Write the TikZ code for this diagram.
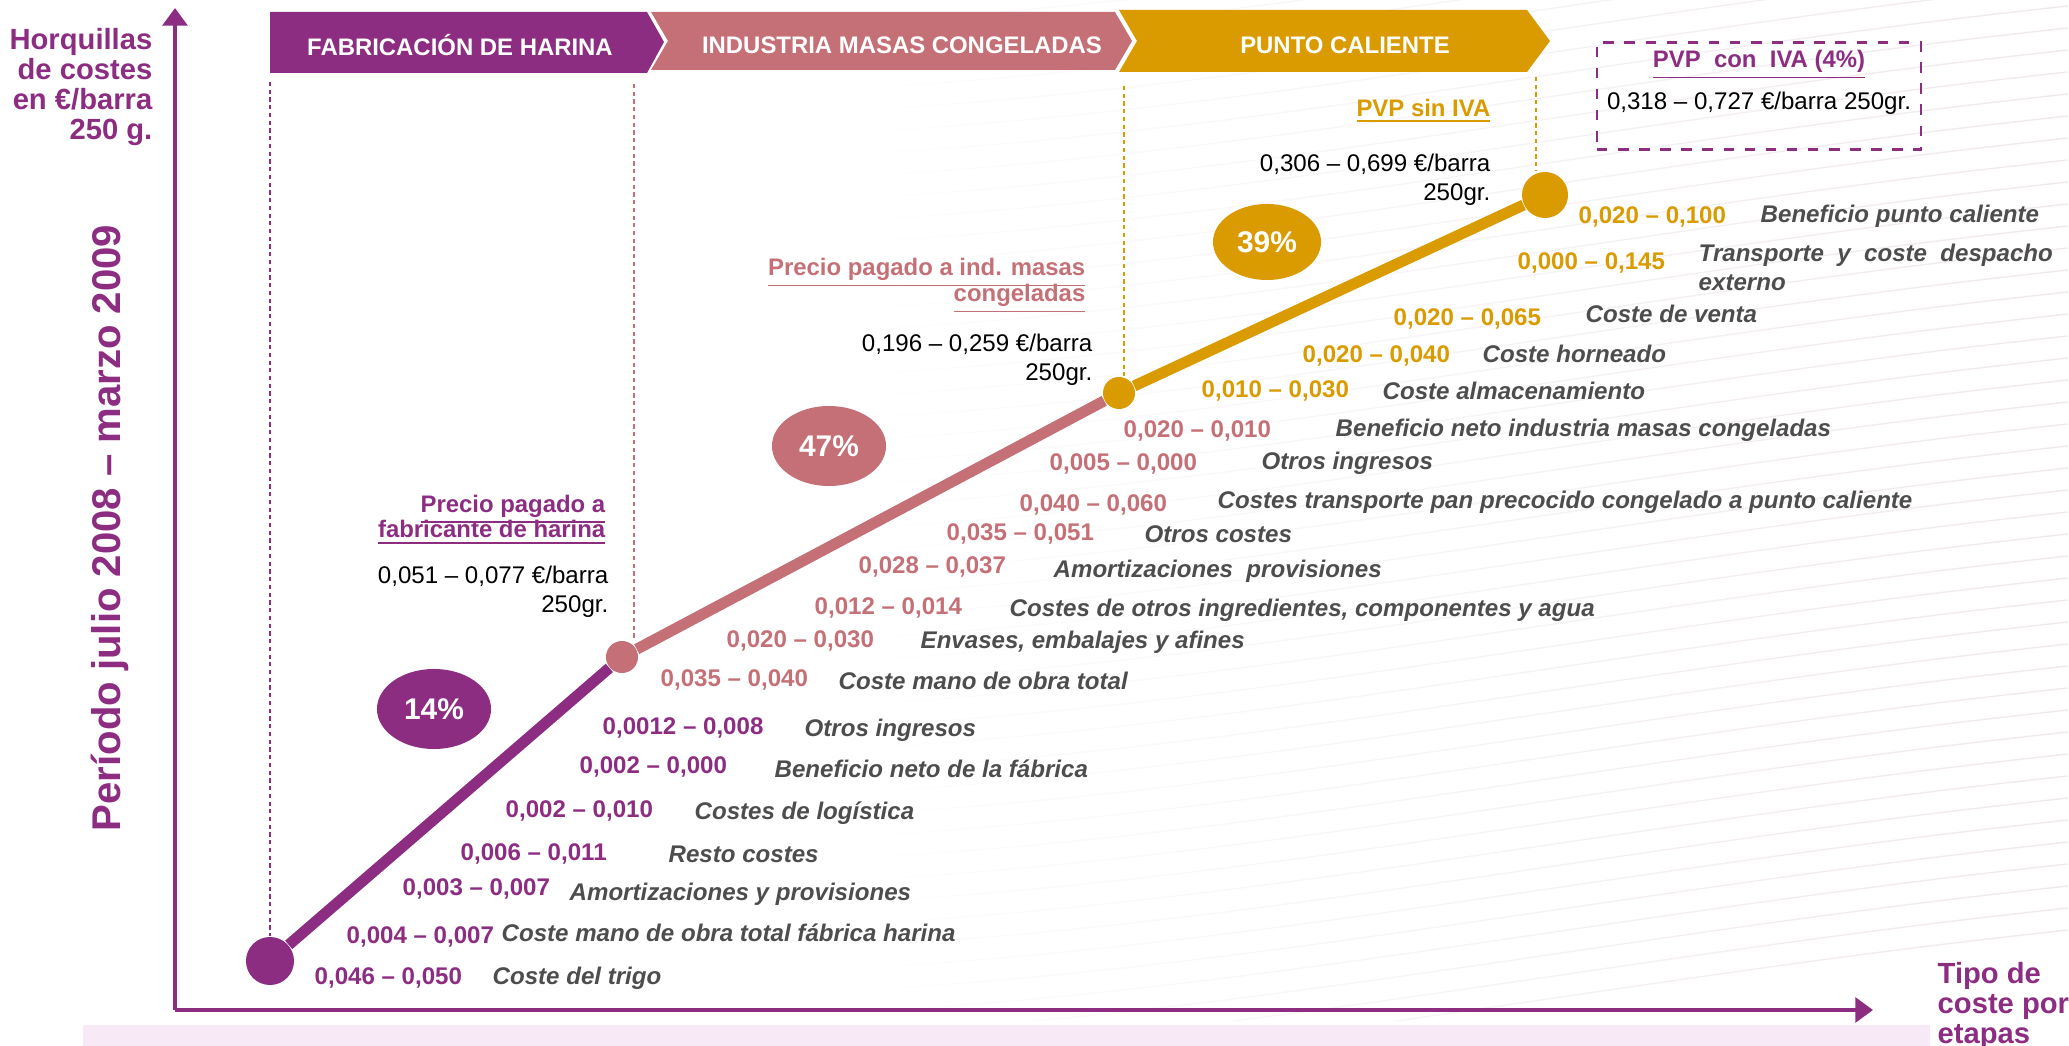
\documentclass[tikz,border=0pt]{standalone}
\usepackage{fontspec}
\setmainfont{Liberation Sans}
\usetikzlibrary{arrows.meta,shapes.geometric,fadings}
\definecolor{harina}{RGB}{140,45,130}
\definecolor{masas}{RGB}{196,112,118}
\definecolor{punto}{RGB}{218,155,0}
\definecolor{texto}{RGB}{77,77,77}
\definecolor{banda}{RGB}{247,233,246}
\definecolor{ondas}{RGB}{240,232,238}
\tikzfading[name=hacia derecha, left color=transparent!100, right color=transparent!0]

\begin{document}
\begin{tikzpicture}[x=0.01cm, y=-0.01cm]
\tikzstyle{every node}=[inner sep=0pt, font=\fontsize{6.85}{8.3}\selectfont]
\tikzstyle{banner}=[text=white, font=\fontsize{6.8}{8}\selectfont\bfseries]
\tikzstyle{eje}=[harina, line width=1.1pt, -{Triangle[length=5pt, width=7pt]}]
\tikzstyle{hito}=[shape=circle]
\tikzstyle{tramo}=[line width=0.11cm]
\tikzstyle{guia}=[line width=0.4pt, dash pattern=on 1.2pt off 1pt]
\tikzstyle{pct}=[shape=ellipse, minimum width=1.14cm, minimum height=0.8cm, text=white, font=\fontsize{8.5}{9}\selectfont\bfseries]
\tikzstyle{titulo}=[anchor=east, align=right, font={\fontsize{6.8}{7.3}\selectfont\bfseries\lineskiplimit-5pt\relax}]
\tikzstyle{precio}=[anchor=east, align=right, font=\fontsize{6.85}{8.3}\selectfont]
\tikzstyle{valor}=[anchor=west, text height=5pt, text depth=0pt, font=\fontsize{6.85}{8.3}\selectfont\bfseries]
\tikzstyle{coste}=[anchor=west, text height=5pt, text depth=0pt, text=texto, font=\fontsize{6.85}{8.3}\selectfont\bfseries\itshape]
\useasboundingbox (0,0) rectangle (2069,1046);

\begin{scope}
\clip (820,0) rectangle (2069,1020);
\foreach \k in {0,...,60}
  \draw[ondas, line width=0.4pt, path fading=hacia derecha] (820,1080-\k*22) .. controls (1250,1060-\k*22) and (1600,980-\k*22) .. (2069,930-\k*22);
\end{scope}
\fill[banda] (83,1025) rectangle (1930,1046);

\fill[harina] (270,12) -- (647,12) -- (664,42) -- (647,73) -- (270,73) -- cycle;
\fill[masas] (651,12) -- (1115,12) -- (1132,41) -- (1115,70) -- (651,70) -- (668,41) -- cycle;
\fill[punto] (1119,10) -- (1527,10) -- (1550,41) -- (1527,72) -- (1119,72) -- (1137,41) -- cycle;
\node[banner] (fab) at (460,45) {FABRICACIÓN DE HARINA};
\node[banner] (ind) at (902,45) {INDUSTRIA MASAS CONGELADAS};
\node[banner] (pto) at (1345,45) {PUNTO CALIENTE};

\coordinate (origen) at (175,1010);
\coordinate (tope) at (175,8);
\coordinate (fin) at (1873,1010);
\draw[eje] (origen) -- (tope);
\draw[eje] (origen) -- (fin);
\node[anchor=east, align=right, text=harina, font=\fontsize{8.3}{8.5}\selectfont\bfseries] (ejey) at (153,87) {Horquillas\\de costes\\en €/barra\\250 g.};
\node[rotate=90, text=harina, font=\fontsize{11.4}{13}\selectfont\bfseries] (periodo) at (110,528) {Período julio 2008 – marzo 2009};
\node[anchor=north west, align=left, text=harina, font=\fontsize{8.3}{8.5}\selectfont\bfseries] (ejex) at (1937,962) {Tipo de\\coste por\\etapas};

\node[hito, fill=harina, minimum size=0.48cm] (n0) at (270,961) {};
\node[hito, fill=masas, minimum size=0.32cm] (n1) at (622,657) {};
\node[hito, fill=punto, minimum size=0.32cm] (n2) at (1119,393) {};
\node[hito, fill=punto, minimum size=0.46cm] (n3) at (1545,195) {};
\draw[harina, tramo] (n0) -- (n1);
\draw[masas, tramo] (n1) -- (n2);
\draw[punto, tramo] (n2) -- (n3);

\coordinate (d0) at (270,82);
\coordinate (d1) at (634,84);
\coordinate (d2) at (1124,86);
\coordinate (d3) at (1536,77);
\draw[harina, guia] (d0) -- (n0.north);
\draw[masas, guia] (d1) -- (d1 |- n1.north);
\draw[punto, guia] (d2) -- (d2 |- n2.north);
\draw[punto, guia] (d3) -- (d3 |- n3.north);

\node[pct, fill=harina] (p14) at (434,709) {14\%};
\node[pct, fill=masas] (p47) at (829,446) {47\%};
\node[pct, fill=punto, minimum width=1.08cm, minimum height=0.76cm] (p39) at (1267,242) {39\%};

\node[titulo, text=harina] (tit1) at (606,520) {\underline{Precio pagado a}\\\underline{fabricante de harina}};
\node[precio] (pre1) at (609,592) {0,051 – 0,077 €/barra\\250gr.};
\node[titulo, text=masas] (tit2) at (1086,286) {\underline{Precio pagado a ind. masas}\\\underline{congeladas}};
\node[precio] (pre2) at (1093,360) {0,196 – 0,259 €/barra\\250gr.};
\node[titulo, text=punto] (tit3) at (1491,111) {\underline{PVP sin IVA}};
\node[precio] (pre3) at (1491,180) {0,306 – 0,699 €/barra\\250gr.};
\node[draw=harina, dashed, line width=0.6pt, minimum width=3.24cm, minimum height=1.07cm] (caja) at (1759,96) {};
\node[text=harina, font=\fontsize{6.8}{8}\selectfont\bfseries] (tit4) at (1759,65) {\underline{PVP\ \ con\ \ IVA (4\%)}};
\node (pre4) at (1759,103) {0,318 – 0,727 €/barra 250gr.};

\node[valor, harina] (v1) at (314,976) {0,046 – 0,050};
\node[coste] (c1) at (492,976) {Coste del trigo};
\node[valor, harina] (v2) at (346,935) {0,004 – 0,007};
\node[coste] (c2) at (501,933) {Coste mano de obra total fábrica harina};
\node[valor, harina] (v3) at (402,887) {0,003 – 0,007};
\node[coste] (c3) at (569,892) {Amortizaciones y provisiones};
\node[valor, harina] (v4) at (460,852) {0,006 – 0,011};
\node[coste] (c4) at (668,854) {Resto costes};
\node[valor, harina] (v5) at (505,809) {0,002 – 0,010};
\node[coste] (c5) at (694,811) {Costes de logística};
\node[valor, harina] (v6) at (579,765) {0,002 – 0,000};
\node[coste] (c6) at (774,769) {Beneficio neto de la fábrica};
\node[valor, harina] (v7) at (602,726) {0,0012 – 0,008};
\node[coste] (c7) at (804,728) {Otros ingresos};

\node[valor, masas] (v8) at (660,678) {0,035 – 0,040};
\node[coste] (c8) at (838,681) {Coste mano de obra total};
\node[valor, masas] (v9) at (726,639) {0,020 – 0,030};
\node[coste] (c9) at (920,640) {Envases, embalajes y afines};
\node[valor, masas] (v10) at (814,606) {0,012 – 0,014};
\node[coste] (c10) at (1009,608) {Costes de otros ingredientes, componentes y agua};
\node[valor, masas] (v11) at (858,565) {0,028 – 0,037};
\node[coste] (c11) at (1053,569) {Amortizaciones\ \ provisiones};
\node[valor, masas] (v12) at (946,532) {0,035 – 0,051};
\node[coste] (c12) at (1144,534) {Otros costes};
\node[valor, masas] (v13) at (1019,503) {0,040 – 0,060};
\node[coste] (c13) at (1217,500) {Costes transporte pan precocido congelado a punto caliente};
\node[valor, masas] (v14) at (1049,462) {0,005 – 0,000};
\node[coste] (c14) at (1261,461) {Otros ingresos};
\node[valor, masas] (v15) at (1123,429) {0,020 – 0,010};
\node[coste] (c15) at (1335,428) {Beneficio neto industria masas congeladas};

\node[valor, punto] (v16) at (1201,389) {0,010 – 0,030};
\node[coste] (c16) at (1382,391) {Coste almacenamiento};
\node[valor, punto] (v17) at (1302,354) {0,020 – 0,040};
\node[coste] (c17) at (1482,354) {Coste horneado};
\node[valor, punto] (v18) at (1393,317) {0,020 – 0,065};
\node[coste] (c18) at (1585,314) {Coste de venta};
\node[valor, punto] (v19) at (1517,261) {0,000 – 0,145};
\node[anchor=north west, text=texto, font=\fontsize{6.85}{8.3}\selectfont\bfseries\itshape, text width=3.54cm, align=justify] (c19) at (1698,243) {Transporte y coste despacho externo};
\node[valor, punto] (v20) at (1578,215) {0,020 – 0,100};
\node[coste] (c20) at (1760,214) {Beneficio punto caliente};
\end{tikzpicture}
\end{document}
